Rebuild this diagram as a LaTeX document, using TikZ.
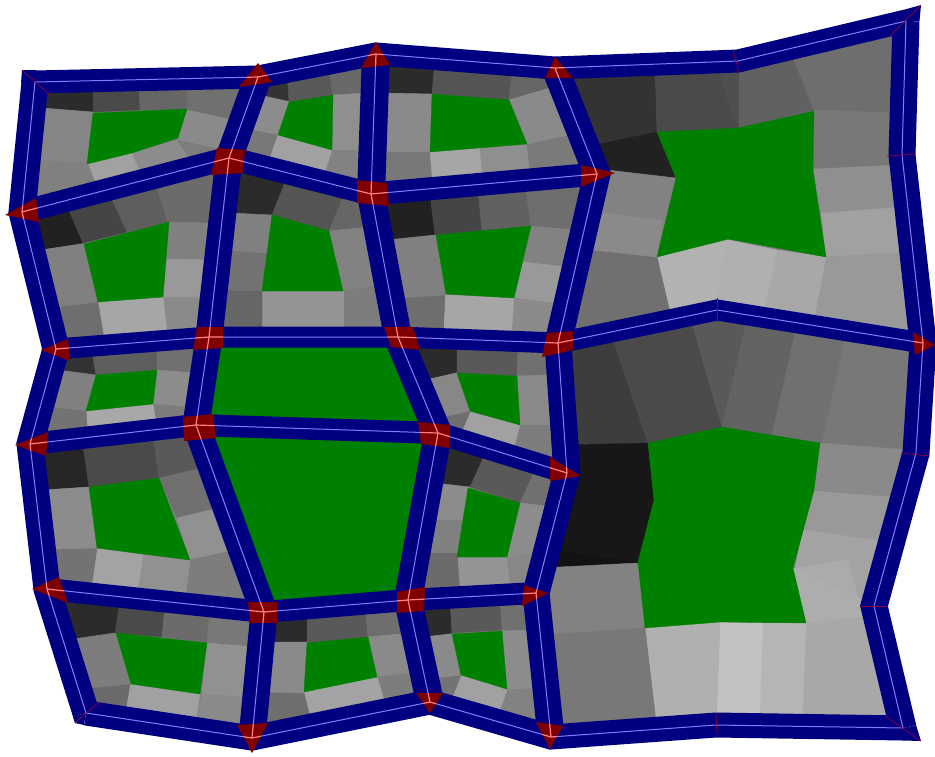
\documentclass[tikz,border=0pt]{standalone}
\usepackage{xcolor}
\definecolor{beamblue}{RGB}{0,0,128}
\definecolor{axisblue}{RGB}{128,128,255}
\definecolor{jointred}{RGB}{128,0,0}
\definecolor{axispink}{RGB}{255,128,128}
\definecolor{seamred}{RGB}{140,0,60}
\definecolor{fieldgreen}{RGB}{0,128,0}
\tikzset{
  cell/.style={fill=black!#1,draw=black!#1,line width=0.4pt},
  field/.style={fill=fieldgreen,draw=fieldgreen,line width=0.3pt},
  beam/.style={draw=beamblue,line width=#1 pt},
  axisline/.style={axisblue,line width=1pt},
  seam/.style={seamred,line width=0.7pt}
}
\newcommand\cellq[5]{\fill[cell=#1] (#2)--(#3)--(#4)--(#5)--cycle;}
\begin{document}
\begin{tikzpicture}[x=1pt,y=-1pt]
  \useasboundingbox (0,0) rectangle (935,756);
  % beam axes: grid points
  \coordinate (n1) at (35,82);   \coordinate (n2) at (258,77);  \coordinate (n3) at (376,54);
  \coordinate (n4) at (555,68);  \coordinate (n5) at (738,61);  \coordinate (n6) at (906,21);
  \coordinate (a1) at (22,212);  \coordinate (a2) at (229,158); \coordinate (a3) at (371,194);
  \coordinate (a4) at (597,174); \coordinate (a5) at (902,155);
  \coordinate (b1) at (56,349);  \coordinate (b2) at (209,337); \coordinate (b3) at (398,337);
  \coordinate (b4) at (558,343); \coordinate (b5) at (717,310); \coordinate (b6) at (923,343);
  \coordinate (c1) at (30,444);  \coordinate (c2) at (196,425); \coordinate (c3) at (438,433);
  \coordinate (c4) at (567,473); \coordinate (c5) at (916,453);
  \coordinate (d1) at (47,589);  \coordinate (d2) at (264,612); \coordinate (d3) at (408,600);
  \coordinate (d4) at (536,593); \coordinate (d5) at (874,606);
  \coordinate (s1) at (86,713);  \coordinate (s2) at (252,738); \coordinate (s3) at (430,702);
  \coordinate (s4) at (551,737); \coordinate (s5) at (716,725); \coordinate (s6) at (903,728);
  \def\topline{(n1)--(n2)--(n3)--(n4)--(n5)--(n6)}
  \def\botline{(s1)--(s2)--(s3)--(s4)--(s5)--(s6)}
  \def\leftline{(n1)--(a1)--(b1)--(c1)--(d1)--(s1)}
  \def\rightline{(n6)--(a5)--(b6)--(c5)--(d5)--(s6)}
  \def\rowa{(a1)--(a2)--(a3)--(a4)}
  \def\rowb{(b1)--(b2)--(b3)--(b4)--(b5)--(b6)}
  \def\rowc{(c1)--(c2)--(c3)--(c4)}
  \def\rowd{(d1)--(d2)--(d3)--(d4)}
  \def\colb{(n2)--(a2)--(b2)--(c2)--(d2)--(s2)}
  \def\colc{(n3)--(a3)--(b3)--(c3)--(d3)--(s3)}
  \def\cold{(n4)--(a4)--(b4)--(c4)--(d4)--(s4)}
  % ground under the cells
  \fill[black!50] (n1)--(n2)--(n3)--(n4)--(n5)--(n6)--(a5)--(b6)--(c5)--(d5)--(s6)--(s5)--(s4)--(s3)--(s2)--(s1)--(d1)--(c1)--(b1)--(a1)--cycle;
  % top row, left
  \cellq{83}{45,88}{93,88}{93,112}{42,108}
  \cellq{71}{93,88}{139,86}{140,110}{93,112}
  \cellq{60}{139,86}{188,84}{187,110}{140,110}
  \cellq{56}{188,84}{243,80}{232,120}{187,110}
  \cellq{48}{42,108}{93,112}{88,163}{37,161}
  \cellq{46}{187,110}{232,120}{224,150}{177,140}
  \cellq{50}{37,161}{88,163}{98,188}{30,200}
  \cellq{37}{88,163}{132,153}{142,175}{98,188}
  \cellq{45}{132,153}{177,140}{192,162}{142,175}
  \cellq{51}{177,140}{224,150}{212,160}{192,162}
  \fill[field] (93,113)--(187,109)--(178,138)--(132,153)--(87,164)--cycle;
  % top row, middle
  \cellq{80}{270,72}{290,68}{290,101}{260,95}
  \cellq{65}{287,72}{328,62}{333,95}{289,102}
  \cellq{59}{328,62}{365,60}{365,93}{333,95}
  \cellq{44}{333,95}{365,93}{365,150}{332,150}
  \cellq{49}{332,150}{365,150}{365,182}{323,178}
  \cellq{37}{278,135}{332,150}{323,178}{268,162}
  \cellq{45}{260,95}{289,102}{277,135}{250,130}
  \cellq{53}{250,130}{277,135}{268,162}{238,148}
  \fill[field] (289,102)--(333,95)--(332,150)--(278,135)--cycle;
  % top row, right
  \cellq{83}{380,58}{435,60}{432,94}{380,93}
  \cellq{67}{435,60}{513,66}{509,100}{432,94}
  \cellq{60}{513,66}{548,70}{556,86}{509,100}
  \cellq{46}{380,93}{432,94}{430,152}{380,152}
  \cellq{53}{380,152}{430,152}{433,187}{380,190}
  \cellq{35}{430,152}{480,148}{483,183}{433,187}
  \cellq{44}{480,148}{527,144}{531,178}{483,183}
  \cellq{52}{527,144}{582,132}{585,172}{531,178}
  \cellq{46}{509,100}{556,86}{582,132}{527,144}
  \fill[field] (432,94)--(509,100)--(527,144)--(430,152)--cycle;
  % big cell, upper right
  \cellq{80}{565,65}{655,65}{657,132}{595,150}
  \cellq{87}{595,145}{657,132}{676,178}{590,168}
  \cellq{71}{655,65}{718,65}{739,128}{657,132}
  \cellq{69}{718,65}{739,65}{739,128}{730,110}
  \cellq{62}{739,65}{790,50}{814,110}{739,128}
  \cellq{57}{790,50}{895,25}{900,113}{814,110}
  \cellq{53}{814,110}{900,113}{900,165}{813,169}
  \cellq{44}{813,169}{900,165}{905,207}{821,213}
  \cellq{37}{821,213}{905,207}{910,252}{826,257}
  \cellq{40}{826,257}{910,252}{918,345}{812,330}
  \cellq{34}{777,250}{826,257}{812,330}{762,320}
  \cellq{31}{728,240}{777,250}{762,320}{712,315}
  \cellq{30}{657,257}{728,240}{712,315}{673,325}
  \cellq{56}{575,245}{657,257}{673,325}{560,340}
  \cellq{46}{585,208}{663,220}{657,257}{575,248}
  \cellq{49}{590,168}{676,178}{663,220}{585,210}
  \fill[field] (657,132)--(738,128)--(814,111)--(813,170)--(826,257)--(728,239)--(657,257)--(676,178)--cycle;
  % second row, left
  \cellq{87}{34,216}{68,208}{83,243}{40,250}
  \cellq{73}{68,208}{110,195}{127,232}{83,243}
  \cellq{63}{110,195}{155,182}{168,222}{127,232}
  \cellq{58}{155,182}{216,170}{212,223}{168,222}
  \cellq{50}{168,222}{212,223}{210,260}{167,259}
  \cellq{40}{167,259}{210,260}{207,298}{163,297}
  \cellq{46}{163,297}{207,298}{205,335}{168,340}
  \cellq{35}{98,302}{163,297}{168,340}{105,345}
  \cellq{57}{55,307}{98,302}{105,345}{68,348}
  \cellq{50}{40,250}{83,244}{98,302}{55,307}
  \fill[field] (84,244)--(169,222)--(163,297)--(98,302)--cycle;
  % second row, middle
  \cellq{83}{240,165}{288,175}{272,215}{230,213}
  \cellq{67}{288,175}{345,192}{329,231}{272,215}
  \cellq{60}{345,192}{368,200}{370,227}{329,231}
  \cellq{49}{329,231}{370,227}{382,285}{343,291}
  \cellq{51}{343,291}{382,285}{392,335}{343,338}
  \cellq{42}{262,291}{343,291}{343,338}{262,338}
  \cellq{60}{220,290}{262,291}{262,338}{218,338}
  \cellq{55}{225,250}{268,253}{262,291}{220,290}
  \cellq{50}{230,213}{272,215}{268,253}{225,250}
  \fill[field] (272,215)--(329,231)--(343,291)--(262,291)--cycle;
  % second row, right
  \cellq{87}{382,200}{430,194}{435,235}{387,240}
  \cellq{73}{430,194}{478,190}{482,231}{435,235}
  \cellq{62}{478,190}{525,185}{531,226}{482,231}
  \cellq{57}{525,185}{585,180}{575,230}{531,226}
  \cellq{49}{531,226}{575,230}{568,267}{523,262}
  \cellq{40}{523,262}{568,267}{560,304}{514,298}
  \cellq{46}{514,298}{560,304}{552,340}{511,340}
  \cellq{35}{445,295}{514,298}{511,340}{443,340}
  \cellq{57}{400,298}{445,295}{443,340}{405,340}
  \cellq{50}{387,240}{435,235}{445,295}{400,298}
  \fill[field] (436,235)--(531,226)--(514,298)--(446,294)--cycle;
  % third row, left
  \cellq{80}{62,357}{92,352}{97,375}{58,370}
  \cellq{63}{92,352}{157,346}{157,370}{96,375}
  \cellq{56}{157,346}{198,345}{195,373}{157,370}
  \cellq{45}{157,370}{195,373}{190,407}{153,404}
  \cellq{51}{153,404}{190,407}{190,425}{157,428}
  \cellq{34}{86,411}{153,404}{157,428}{88,437}
  \cellq{55}{48,406}{86,411}{88,437}{42,438}
  \cellq{50}{58,370}{96,375}{86,411}{48,406}
  \fill[field] (96,375)--(157,370)--(153,404)--(86,411)--cycle;
  % large green fields in the middle
  \fill[field] (b2)--(b3)--(c3)--(c2)--cycle;
  \fill[field] (c2)--(c3)--(d3)--(d2)--cycle;
  % third row, right
  \cellq{83}{412,345}{457,345}{457,372}{425,380}
  \cellq{65}{457,345}{518,348}{517,376}{457,373}
  \cellq{56}{518,348}{548,350}{550,375}{517,376}
  \cellq{46}{517,376}{550,375}{553,425}{520,425}
  \cellq{51}{520,425}{553,425}{556,465}{513,452}
  \cellq{37}{470,412}{520,425}{513,452}{460,435}
  \cellq{57}{440,418}{470,412}{460,435}{446,435}
  \cellq{47}{425,380}{457,373}{470,410}{440,418}
  \fill[field] (457,373)--(517,376)--(520,425)--(470,411)--cycle;
  % fourth row, left
  \cellq{85}{40,450}{83,445}{89,487}{42,490}
  \cellq{71}{83,445}{153,435}{159,478}{89,487}
  \cellq{65}{153,435}{190,432}{202,468}{159,478}
  \cellq{56}{159,478}{202,468}{218,508}{177,518}
  \cellq{43}{177,518}{218,508}{235,550}{190,560}
  \cellq{51}{190,560}{235,550}{255,610}{185,602}
  \cellq{43}{143,555}{190,560}{185,602}{137,595}
  \cellq{36}{97,548}{143,555}{137,595}{91,590}
  \cellq{55}{50,549}{97,548}{91,590}{55,585}
  \cellq{45}{42,490}{89,487}{97,548}{50,549}
  \fill[field] (89,487)--(159,478)--(190,560)--(97,548)--cycle;
  % fourth row, right
  \cellq{83}{442,442}{486,452}{470,487}{435,483}
  \cellq{65}{486,452}{536,468}{520,503}{470,487}
  \cellq{56}{536,468}{560,475}{555,507}{520,503}
  \cellq{45}{520,503}{555,507}{545,560}{506,557}
  \cellq{42}{457,557}{507,557}{511,592}{460,595}
  \cellq{47}{507,557}{540,553}{530,590}{511,592}
  \cellq{45}{435,483}{470,487}{464,520}{432,520}
  \cellq{50}{432,520}{464,520}{457,553}{425,553}
  \cellq{58}{425,553}{457,553}{460,595}{420,595}
  \fill[field] (468,488)--(520,503)--(507,557)--(457,557)--cycle;
  % bottom row, left
  \cellq{83}{62,598}{120,600}{115,633}{73,639}
  \cellq{71}{120,600}{165,606}{162,637}{115,633}
  \cellq{58}{165,606}{210,612}{207,643}{162,637}
  \cellq{53}{210,612}{256,615}{256,647}{207,643}
  \cellq{43}{207,643}{256,647}{250,698}{202,694}
  \cellq{46}{202,694}{250,698}{245,733}{195,727}
  \cellq{37}{130,684}{200,694}{195,727}{125,714}
  \cellq{58}{90,688}{130,684}{125,714}{95,712}
  \cellq{51}{73,639}{115,633}{130,684}{90,688}
  \fill[field] (116,633)--(207,643)--(200,694)--(131,684)--cycle;
  % bottom row, middle
  \cellq{83}{270,615}{307,612}{307,642}{270,642}
  \cellq{65}{307,612}{365,606}{368,637}{307,643}
  \cellq{57}{365,606}{405,605}{410,633}{368,637}
  \cellq{46}{368,637}{410,633}{420,672}{377,677}
  \cellq{51}{377,677}{420,672}{425,697}{386,706}
  \cellq{36}{304,692}{377,677}{386,706}{312,725}
  \cellq{57}{265,692}{304,693}{312,725}{265,733}
  \cellq{46}{270,642}{307,642}{304,693}{265,692}
  \fill[field] (307,643)--(368,637)--(377,677)--(304,692)--cycle;
  % bottom row, right
  \cellq{83}{418,605}{450,600}{452,633}{423,637}
  \cellq{65}{450,600}{500,598}{502,630}{452,633}
  \cellq{56}{500,598}{530,598}{533,630}{502,630}
  \cellq{45}{502,631}{533,630}{540,688}{507,690}
  \cellq{49}{507,690}{540,688}{545,728}{497,718}
  \cellq{37}{461,675}{507,690}{497,718}{450,703}
  \cellq{55}{434,678}{461,675}{450,703}{436,700}
  \cellq{46}{423,637}{452,634}{461,675}{434,678}
  \fill[field] (452,634)--(502,631)--(507,689)--(461,675)--cycle;
  % big cell, lower right
  \cellq{76}{560,345}{610,330}{648,443}{565,445}
  \cellq{71}{610,330}{688,310}{722,427}{648,443}
  \cellq{65}{688,310}{717,305}{748,315}{722,427}
  \cellq{61}{748,315}{798,320}{772,435}{722,427}
  \cellq{56}{798,320}{847,330}{822,443}{772,435}
  \cellq{53}{847,330}{925,340}{910,450}{822,443}
  \cellq{46}{820,443}{910,450}{905,498}{814,490}
  \cellq{40}{814,491}{905,498}{890,542}{803,530}
  \cellq{36}{803,530}{890,542}{875,605}{795,568}
  \cellq{33}{795,568}{848,560}{860,605}{830,590}
  \cellq{32}{793,568}{875,605}{870,617}{806,623}
  \cellq{34}{806,623}{870,617}{905,730}{802,730}
  \cellq{29}{763,623}{806,623}{802,730}{759,730}
  \cellq{24}{720,622}{763,623}{759,730}{716,730}
  \cellq{31}{645,628}{720,622}{716,730}{657,730}
  \fill[cell=91] (565,445)--(648,443)--(654,500)--(638,563)--(545,552)--(555,480)--cycle;
  \cellq{93}{540,548}{638,563}{600,566}{540,570}
  \cellq{49}{540,568}{637,563}{645,628}{545,635}
  \cellq{53}{545,635}{645,628}{657,730}{565,740}
  \fill[field] (648,443)--(722,427)--(820,443)--(814,490)--(793,568)--(806,623)--(720,622)--(645,628)--(638,562)--(654,500)--cycle;
  % beams
  \foreach \wd/\mem in {23/\topline,25/\botline,27/\leftline,27/\rightline,23/\rowa,21/\rowb,22/\rowc,22/\rowd,27/\colb,28/\colc,27/\cold}
    \draw[beam=\wd] \mem;
  % outer corners
  \fill[beamblue] (22,70)--(36,70)--(35,82)--(21,83)--cycle;
  \fill[beamblue] (921,5)--(903,10)--(906,21)--(919.5,21)--cycle;
  \fill[beamblue] (921,741)--(903,740.5)--(903,728)--(916,725)--cycle;
  \fill[beamblue] (75,723)--(84,725)--(86,713)--(73,717)--cycle;
  % axes
  \foreach \mem in {\topline,\botline,\leftline,\rightline,\rowa,\rowb,\rowc,\rowd,\colb,\colc,\cold}
    \draw[axisline] \mem;
  % joints
  \def\jointpaths{
    (258,63)--(272,82)--(239,87)--cycle (376,42)--(390,65)--(361,68)--cycle
    (555,57)--(573,78)--(545,78)--cycle (615,173)--(581,187)--(581,165)--cycle
    (217,148)--(245,150)--(243,173)--(211,175)--cycle (357,180)--(387,183)--(389,206)--(357,203)--cycle
    (5,215)--(36,198)--(39,222)--cycle (41,350)--(68,339)--(70,361)--cycle
    (197,327)--(223,327)--(223,348)--(193,350)--cycle (384,327)--(413,327)--(420,350)--(391,347)--cycle
    (547,333)--(573,331)--(573,350)--(542,357)--cycle (935,345)--(915,355)--(913,332)--cycle
    (15,445)--(48,432)--(46,456)--cycle (183,417)--(213,414)--(216,438)--(184,441)--cycle
    (418,422)--(450,425)--(450,448)--(421,444)--cycle (581,476)--(550,481)--(550,457)--cycle
    (32,589)--(59,577)--(68,603)--cycle (248,602)--(277,602)--(277,623)--(250,623)--cycle
    (397,592)--(425,587)--(424,611)--(397,613)--cycle (548,593)--(522,606)--(524,585)--cycle
    (252,753)--(237,725)--(268,723)--cycle (430,713)--(416,693)--(443,693)--cycle
    (550,749)--(536,722)--(563,726)--cycle}
  \fill[jointred] \jointpaths;
  \begin{scope}
    \clip \jointpaths;
    \foreach \mem in {\topline,\botline,\leftline,\rightline,\rowa,\rowb,\rowc,\rowd,\colb,\colc,\cold}
      \draw[axispink,line width=1.2pt] \mem;
  \end{scope}
  % seams at corners and free kinks
  \draw[seam] (22,70)--(49,94);
  \draw[seam] (921,5)--(890,36);
  \draw[seam] (921,741)--(885,716);
  \draw[seam] (75,723)--(99,702);
  \draw[seam] (733,50)--(739,73);
  \draw[seam] (887,156)--(915,154);
  \draw[seam] (901,453)--(930,456);
  \draw[seam] (860,606)--(888,606);
  \draw[seam] (716,713)--(717,735);
  \draw[seam] (717,298)--(717,322);
\end{tikzpicture}
\end{document}
